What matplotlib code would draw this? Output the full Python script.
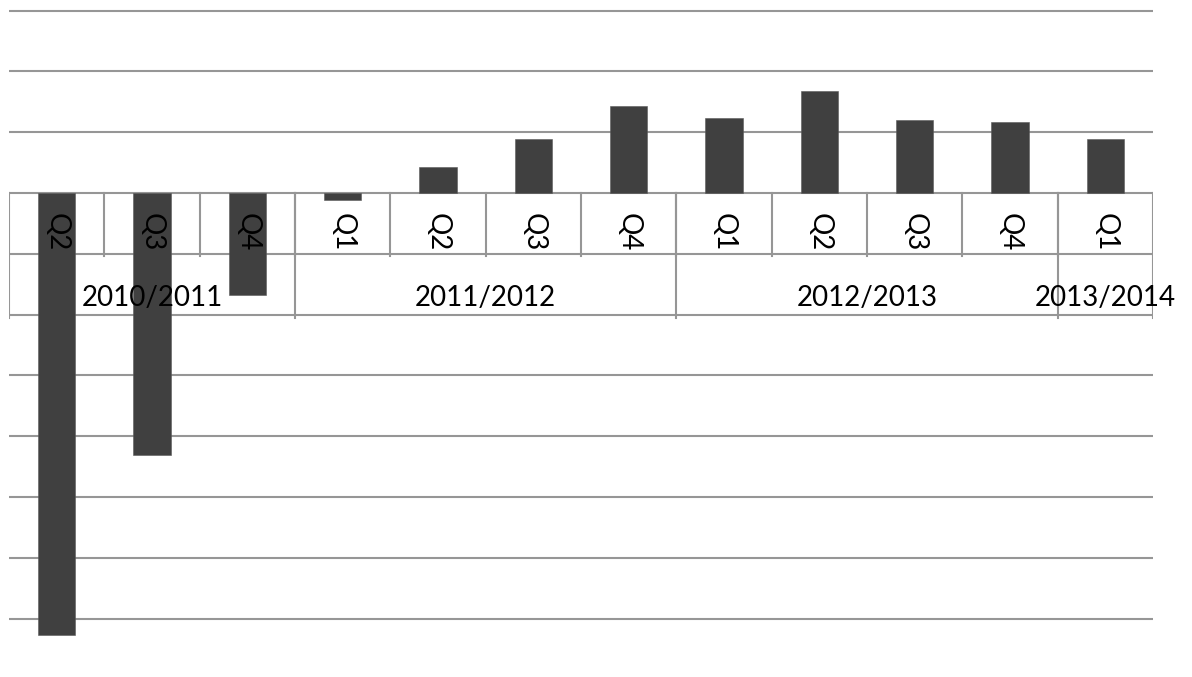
import numpy as np
import matplotlib
matplotlib.use("Agg")
import matplotlib.pyplot as plt

# data
quarters = ["Q2", "Q3", "Q4", "Q1", "Q2", "Q3", "Q4", "Q1", "Q2", "Q3", "Q4", "Q1"]
values = [-7.27, -4.31, -1.67, -0.12, 0.42, 0.89, 1.43, 1.24, 1.67, 1.20, 1.16, 0.89]
year_groups = ["2010/2011", "2011/2012", "2012/2013", "2013/2014"]
group_sizes = [3, 4, 4, 1]

plt.rcParams['font.family'] = ['Lato', 'DejaVu Sans']

fig = plt.figure(figsize=(11.92, 6.77), dpi=100)
ax = fig.add_axes([9 / 1192, 28 / 677, 1144 / 1192, 647.5 / 677])

grid_color = '#969696'
x = np.arange(len(values))
ax.bar(x, values, width=0.395, color='#404040', edgecolor='#5a5a5a', linewidth=0.4, zorder=2)

ax.set_xlim(-0.5, len(values) - 0.5)
ax.set_ylim(-7.5, 3.15)
ax.set_yticks(range(-7, 4))
ax.yaxis.grid(True, color=grid_color, linewidth=1.5, zorder=0)
ax.set_axisbelow(True)
ax.tick_params(left=False, bottom=False, labelleft=False, labelbottom=False)
for s in ax.spines.values():
    s.set_visible(False)

# category table: quarter row
for i, q in enumerate(quarters):
    ax.text(i, -0.65, q, rotation=-90, ha='center', va='center', fontsize=20, zorder=3)
    if i > 0:
        ax.plot([i - 0.5, i - 0.5], [0, -1.03], color=grid_color, lw=1.5, zorder=1)

# year row
start = 0
bounds = [-0.5]
for name, n in zip(year_groups, group_sizes):
    centre = start + (n - 1) / 2
    ax.text(centre, -1.72, name, ha='center', va='center', fontsize=20, zorder=3)
    start += n
    bounds.append(start - 0.5)
for b in bounds:
    ax.plot([b, b], [0, -2.06], color=grid_color, lw=1.5, zorder=1)

plt.savefig("out.png", dpi=100)
plt.close()
